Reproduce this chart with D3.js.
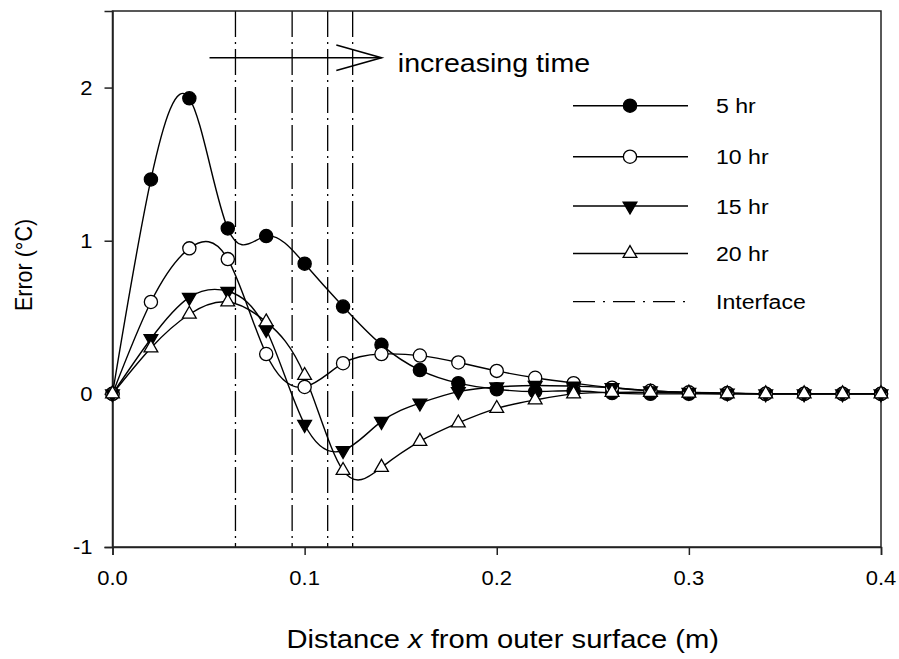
<!DOCTYPE html>
<html><head><meta charset="utf-8">
<script src="https://cdn.jsdelivr.net/npm/d3@7"></script>
<style>
body{margin:0;background:#fff}
svg{display:block}
text{font-family:"Liberation Sans",Arial,sans-serif;fill:#000}
</style></head>
<body><svg id="chart" width="899" height="659"></svg>
<script>
// ---- data ----
const xValues = [0,0.02,0.04,0.06,0.08,0.10,0.12,0.14,0.16,0.18,0.20,0.22,0.24,0.26,0.28,0.30,0.32,0.34,0.36,0.38,0.40];
const err5hr  = [0,1.40,1.93,1.08,1.03,0.85,0.57,0.32,0.155,0.07,0.03,0.015,0.02,0.005,0,0,0,0,0,0,0];
const err10hr = [0,0.60,0.95,0.88,0.26,0.045,0.20,0.26,0.25,0.205,0.15,0.105,0.07,0.04,0.02,0.01,0.005,0,0,0,0];
const err15hr = [0,0.36,0.63,0.67,0.42,-0.20,-0.37,-0.18,-0.06,0.015,0.045,0.055,0.05,0.04,0.02,0.01,0.005,0,0,0,0];
const err20hr = [0,0.30,0.52,0.60,0.47,0.12,-0.50,-0.48,-0.31,-0.19,-0.095,-0.04,0,0.01,0.01,0.005,0,0,0,0,0];
const seriesNames = ["5 hr","10 hr","15 hr","20 hr"];
const seriesMarkers = ["circleFilled","circleOpen","triDownFilled","triUpOpen"];
const interfaceX = [0.064,0.0935,0.112,0.125];
const xTicks = [0,0.1,0.2,0.3,0.4];
const xTickLabels = ["0.0","0.1","0.2","0.3","0.4"];
const yTicks = [-1,0,1,2];
const yTickLabels = ["-1","0","1","2"];
const yLabel = "Error (°C)";
const arrowText = "increasing time";
const legendInterface = "Interface";

// ---- layout ----
const svg = d3.select("#chart");
const L = 112.5, R = 881, T = 11, B = 547;
const x = d3.scaleLinear().domain([0,0.4]).range([L,R]);
const y = d3.scaleLinear().domain([-1,2.5]).range([B,T]);
const ink = "#000";
const SX = 1.1; // horizontal text stretch of the original
const dashDot = "26,5,2,5";

function stretchedText(parent, tx, ty, fs, anchor, str){
  return parent.append("text")
    .attr("transform",`translate(${tx},${ty}) scale(${SX},1)`)
    .attr("font-size",fs).attr("text-anchor",anchor).text(str);
}

// interface lines
svg.append("g").selectAll("line").data(interfaceX).join("line")
  .attr("x1",d=>x(d)).attr("x2",d=>x(d)).attr("y1",T).attr("y2",B)
  .attr("stroke",ink).attr("stroke-width",1.3).attr("stroke-dasharray",dashDot);

// frame
svg.append("rect").attr("x",L).attr("y",T).attr("width",R-L).attr("height",B-T)
  .attr("fill","none").attr("stroke","#222").attr("stroke-width",1.5);

// axes
const xAxis = svg.append("g").attr("transform",`translate(0,${B})`)
  .call(d3.axisBottom(x).tickValues(xTicks).tickSize(8).tickFormat(""));
const yAxis = svg.append("g").attr("transform",`translate(${L},0)`)
  .call(d3.axisLeft(y).tickValues(yTicks).tickSize(8).tickFormat(""));
[xAxis,yAxis].forEach(g=>{
  g.select(".domain").attr("stroke","#222").attr("stroke-width",1.5);
  g.selectAll(".tick line").attr("stroke","#222").attr("stroke-width",1.5);
});
xTicks.forEach((t,i)=>stretchedText(svg, x(t), 585, 20, "middle", xTickLabels[i]));
yTicks.forEach((t,i)=>stretchedText(svg, L-20, y(t)+7, 20, "end", yTickLabels[i]));

// axis titles
const xt = svg.append("text").attr("transform",`translate(${(L+R)/2 + 6},648) scale(${SX},1)`)
  .attr("text-anchor","middle").attr("font-size",26.5);
xt.append("tspan").text("Distance ");
xt.append("tspan").attr("font-style","italic").text("x");
xt.append("tspan").text(" from outer surface (m)");
svg.append("text").attr("transform",`translate(32,${(T+B)/2 - 14}) rotate(-90) scale(1,${SX})`)
  .attr("text-anchor","middle").attr("font-size",21.5).text(yLabel);

// series
const allSeries = [err5hr,err10hr,err15hr,err20hr];
const line = d3.line().x((d,i)=>x(xValues[i])).y(d=>y(d)).curve(d3.curveNatural);
const triUp = d3.symbol().type(d3.symbolTriangle).size(82);
function drawMarker(g, kind, cx, cy){
  if(kind==="circleFilled"||kind==="circleOpen"){
    g.append("circle").attr("cx",cx).attr("cy",cy).attr("r",6.6)
      .attr("fill",kind==="circleFilled"?ink:"#fff").attr("stroke",ink).attr("stroke-width",1.3);
  } else {
    const down = kind==="triDownFilled";
    g.append("path").attr("d",triUp())
      .attr("transform",`translate(${cx},${cy}) rotate(${down?180:0})`)
      .attr("fill",down?ink:"#fff").attr("stroke",ink).attr("stroke-width",1.3);
  }
}
allSeries.forEach((s,k)=>{
  svg.append("path").datum(s).attr("d",line).attr("fill","none").attr("stroke",ink).attr("stroke-width",1.4);
});
allSeries.forEach((s,k)=>{
  const g = svg.append("g");
  s.forEach((v,i)=>drawMarker(g, seriesMarkers[k], x(xValues[i]), y(v)));
});

// arrow annotation (data units)
const arrowY = 2.195, arrowX0 = 0.0505, arrowX1 = 0.140, headBack = 0.0235, headHalf = 0.083;
svg.append("line").attr("x1",x(arrowX0)).attr("x2",x(arrowX1)).attr("y1",y(arrowY)).attr("y2",y(arrowY))
  .attr("stroke",ink).attr("stroke-width",1.6);
svg.append("path").attr("d",`M${x(arrowX1-headBack)},${y(arrowY+headHalf)}L${x(arrowX1)},${y(arrowY)}L${x(arrowX1-headBack)},${y(arrowY-headHalf)}`)
  .attr("fill","none").attr("stroke",ink).attr("stroke-width",1.6);
stretchedText(svg, x(0.1485), y(arrowY)+14, 26, "start", arrowText);

// legend
const legRows = [105.7,156.7,206,253.5,301.7];
const legX0 = 573, legX1 = 688, legMid = 630, legText = 716;
seriesNames.forEach((n,k)=>{
  const g = svg.append("g");
  g.append("line").attr("x1",legX0).attr("x2",legX1).attr("y1",legRows[k]).attr("y2",legRows[k]).attr("stroke",ink).attr("stroke-width",1.4);
  drawMarker(g, seriesMarkers[k], legMid, legRows[k]);
  stretchedText(g, legText, legRows[k]+7.5, 21, "start", n);
});
svg.append("line").attr("x1",legX0).attr("x2",legX1).attr("y1",legRows[4]).attr("y2",legRows[4])
  .attr("stroke",ink).attr("stroke-width",1.3).attr("stroke-dasharray","22,8,2,8");
stretchedText(svg, legText, legRows[4]+7.5, 21, "start", legendInterface);
</script></body></html>
